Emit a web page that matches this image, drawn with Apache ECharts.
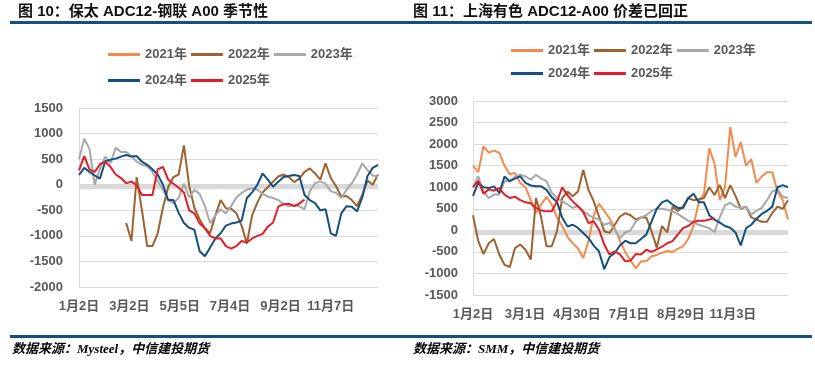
<!DOCTYPE html>
<html>
<head>
<meta charset="utf-8">
<script src="https://cdn.jsdelivr.net/npm/echarts@6.0.0/dist/echarts.min.js"></script>
<style>
html, body { margin: 0; padding: 0; background: #fff; }
#chart { width: 815px; height: 375px; }
</style>
</head>
<body>
<div id="chart"></div>
<script>
// 图10 保太 ADC12-钢联 A00，约每4个交易日取一个点
const ticksL = ['1月2日', '3月2日', '5月5日', '7月4日', '9月2日', '11月7日'];
const bt2021 = [];
const bt2022 = [null, null, null, null, null, null, null, null, null,
  -750, -1100, 150, -500, -1200, -1200, -950, -450, -50, 150, 200, 770, -20, -450, -680, -850, -950, -600, -300, -460,
  -470, -560, -800, -1150, -600, -350, -150, -50, 60, 160, 200, 150, 50, 120, 250, 320, 220, 100, 420, 130, -30, -230,
  -220, -300, -420, -200, 80, 0, 200];
const bt2023 = [500, 900, 700, 0, 320, 550, 420, 720, 640, 640, 560, 450, 390, 360, 250, 70, -100, -300, -360, -260,
  20, -250, -100, -180, -420, -750, -600, -480, -560, -420, -250, -160, -100, -70, -100, -180, -230, -260, -300, -380,
  -420, -400, -420, -480, -130, 30, 60, 20, -130, -160, -260, -100, 30, 200, 420, 280, 180, 160];
const bt2024 = [190, 330, 250, 180, 120, 460, 490, 510, 550, 580, 550, 560, 450, 390, 300, 200, 0, -300, -300, -550,
  -750, -840, -880, -1300, -1400, -1230, -1050, -950, -800, -760, -740, -700, -260, -150, 0, 220, 100, -40, 60, 150,
  170, 190, 170, -200, -300, -360, -500, -480, -950, -1000, -560, -420, -430, -520, -250, 170, 330, 390];
const bt2025 = [280, 560, 300, 250, 400, 450, 350, 200, 130, 30, 60, -10, -200, -200, -200, 300, 350, 100, 20, -60,
  -150, -500, -560, -760, -850, -1000, -1050, -1050, -1200, -1250, -1200, -1100, -1130, -1050, -1000, -960, -820, -740,
  -430, -380, -370, -420, -370, -290];

// 图11 上海有色 ADC12-A00
const ticksR = ['1月2日', '3月1日', '4月30日', '7月1日', '8月29日', '11月3日'];
const smm2021 = [1500, 1350, 1950, 1800, 1850, 1800, 1500, 1300, 1330, 1100, 1000, 700, 400, 600, 780, 600, 300, 100,
  -150, -300, -420, -640, -250, 350, 620, 450, 280, 50, -250, -500, -700, -880, -720, -720, -600, -570, -520, -480,
  -500, -430, -370, -200, 100, 650, 850, 1900, 1550, 700, 1000, 2400, 1700, 2050, 1500, 1650, 1100, 1250, 1350, 1350,
  900, 700, 250];
const smm2022 = [350, -250, -550, -300, -200, -560, -800, -850, -410, -330, -450, -680, 750, 290, -370, -370, -20, 750,
  900, 790, 900, 1400, 940, 670, 320, -20, -60, 130, 320, 400, 350, 250, 300, 300, -20, -400, 100, -50, 550, 450, 550,
  750, 700, 720, 750, 1000, 820, 1050, 750, 1050, 800, 500, 550, 300, 250, 200, 200, 400, 550, 500, 700];
const smm2023 = [1000, 1250, 900, 750, 830, 830, 1140, 1140, 1250, 1290, 1250, 1175, 1290, 1200, 1140, 870, 750, 670,
  600, 520, 560, 440, 360, 290, 250, 130, 170, 15, -180, -50, 0, 200, 300, 350, 450, 500, 500, 480, 440, 380, 300, 220,
  190, 130, 90, 50, -40, 300, 580, 640, 550, 520, 550, 370, 450, 520, 700, 900, 950, 780, 750];
const smm2024 = [800, 1100, 1000, 980, 1020, 870, 1250, 1140, 1200, 1250, 1100, 1040, 1020, 1020, 940, 765, 660, 290,
  90, 130, 55, -60, -180, -355, -490, -900, -620, -525, -350, -240, -300, -300, -200, -100, 200, 500, 650, 700, 600,
  520, 520, 750, 850, 650, 650, 350, 250, 180, 100, 60, -50, -350, 50, 130, 270, 380, 450, 550, 1000, 1050, 1000];
const smm2025 = [1000, 1150, 850, 950, 920, 980, 830, 750, 780, 700, 650, 630, 520, 460, 440, 440, 670, 1000, 810, 670,
  560, 425, 170, 210, 15, -330, -560, -490, -560, -720, -700, -550, -560, -450, -500, -440, -380, -300, -250, -100, 50,
  100, 200, 220, 220, 250, 280];

const years = ['2021年', '2022年', '2023年', '2024年', '2025年'];
const colors = ['#F58A4E', '#9E6130', '#A8A8A8', '#14507F', '#E11F28'];

const font = '"Liberation Sans", "Noto Sans CJK SC", sans-serif';
const grey = '#595959';

function line(name, vals, color, gi) {
  return {
    name: name,
    type: 'line',
    xAxisIndex: gi,
    yAxisIndex: gi,
    data: vals.map((v, i) => [i, v]),
    symbol: 'none',
    connectNulls: false,
    lineStyle: { width: 2, color: color },
    itemStyle: { color: color }
  };
}

function band(gi, low) {
  return {
    type: 'line',
    xAxisIndex: gi,
    yAxisIndex: gi,
    data: [],
    silent: true,
    markArea: {
      silent: true,
      itemStyle: { color: '#d9d9d9' },
      data: [[{ yAxis: low }, { yAxis: 0 }]]
    }
  };
}

function legend(names, left, top) {
  return {
    data: names,
    left: left,
    top: top,
    itemWidth: 32,
    itemHeight: 3,
    itemGap: 4,
    icon: 'rect',
    textStyle: { fontSize: 13, fontWeight: 'bold', color: grey, fontFamily: font }
  };
}

function xAxis(gi, max, step, ticks) {
  return {
    type: 'value',
    gridIndex: gi,
    min: 0,
    max: max,
    interval: step,
    axisLine: { show: false },
    axisTick: { show: false },
    splitLine: { show: false },
    axisLabel: {
      margin: 13,
      fontSize: 13,
      fontWeight: 'bold',
      color: grey,
      fontFamily: font,
      formatter: v => ticks[Math.round(v / step)] || ''
    }
  };
}

function yAxis(gi, min, max, margin) {
  return {
    type: 'value',
    gridIndex: gi,
    min: min,
    max: max,
    interval: 500,
    axisLine: { show: true, onZero: false, lineStyle: { color: '#d9d9d9' } },
    axisTick: { show: false },
    splitLine: { lineStyle: { color: '#d9d9d9', width: 1 } },
    axisLabel: {
      margin: margin, fontSize: 13, fontWeight: 'bold', color: grey, fontFamily: font,
      formatter: v => String(v)
    }
  };
}

const leftData = [bt2021, bt2022, bt2023, bt2024, bt2025];
const rightData = [smm2021, smm2022, smm2023, smm2024, smm2025];

const series = [band(0, -90), band(1, -110)];
years.forEach((y, i) => series.push(line(y, leftData[i], colors[i], 0)));
years.forEach((y, i) => series.push(line(y, rightData[i], colors[i], 1)));

const option = {
  animation: false,
  backgroundColor: '#fff',
  grid: [
    { left: 79, top: 108, width: 299, height: 179 },
    { left: 473, top: 101, width: 315, height: 194 }
  ],
  xAxis: [xAxis(0, 57, 9.6, ticksL), xAxis(1, 60, 9.9, ticksR)],
  yAxis: [yAxis(0, -2000, 1500, 16), yAxis(1, -1500, 3000, 15)],
  legend: [
    legend(years.slice(0, 3), 103, 43),
    legend(years.slice(3), 103, 69),
    legend(years.slice(0, 3), 506, 39),
    legend(years.slice(3), 506, 62)
  ],
  graphic: [
    { type: 'rect', shape: { x: 10, y: 21, width: 802, height: 3 }, style: { fill: '#12507F' } },
    { type: 'rect', shape: { x: 10, y: 335, width: 802, height: 3 }, style: { fill: '#12507F' } },
    { type: 'text', left: 18, top: 4,
      style: { text: '图 10：保太 ADC12-钢联 A00 季节性', font: 'bold 15px ' + font, fill: '#111' } },
    { type: 'text', left: 413, top: 4,
      style: { text: '图 11：上海有色 ADC12-A00 价差已回正', font: 'bold 15px ' + font, fill: '#111' } },
    { type: 'text', left: 12, top: 343,
      style: { text: '数据来源：Mysteel，中信建投期货', font: 'italic bold 13px "Liberation Serif", "Noto Sans CJK SC", serif', fill: '#000' } },
    { type: 'text', left: 413, top: 343,
      style: { text: '数据来源：SMM，中信建投期货', font: 'italic bold 13px "Liberation Serif", "Noto Sans CJK SC", serif', fill: '#000' } }
  ],
  series: series
};

const chart = echarts.init(document.getElementById('chart'));
chart.setOption(option);
</script>
</body>
</html>
